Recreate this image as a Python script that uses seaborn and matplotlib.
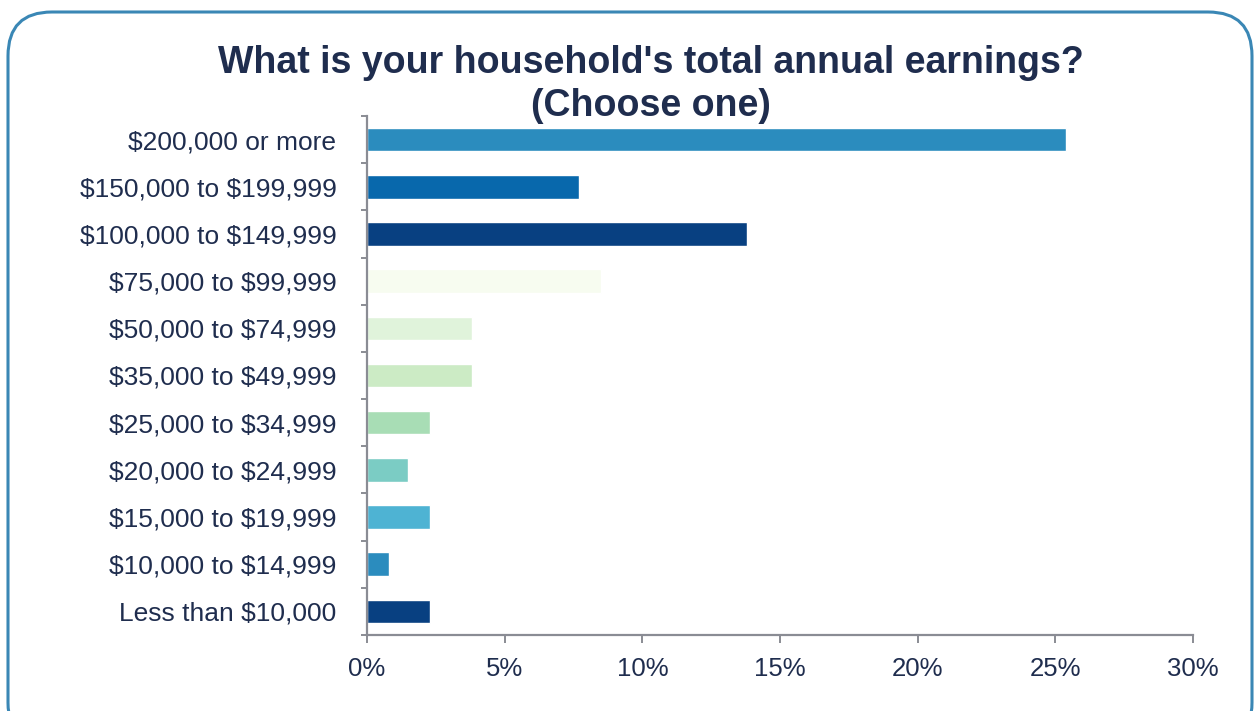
import matplotlib
matplotlib.use("Agg")
import matplotlib.pyplot as plt
from matplotlib.patches import FancyBboxPatch
from matplotlib.ticker import PercentFormatter
import seaborn as sns
import pandas as pd

categories = [
    "$200,000 or more",
    "$150,000 to $199,999",
    "$100,000 to $149,999",
    "$75,000 to $99,999",
    "$50,000 to $74,999",
    "$35,000 to $49,999",
    "$25,000 to $34,999",
    "$20,000 to $24,999",
    "$15,000 to $19,999",
    "$10,000 to $14,999",
    "Less than $10,000",
]
shares = [25.4, 7.7, 13.8, 8.5, 3.8, 3.8, 2.3, 1.5, 2.3, 0.8, 2.3]
bar_colors = [
    "#2b8cbe", "#0868ac", "#084081", "#f7fcf0", "#e0f3db", "#ccebc5",
    "#a8ddb5", "#7bccc4", "#4eb3d3", "#2b8cbe", "#084081",
]
x_ticks = [0, 5, 10, 15, 20, 25, 30]

text_color = "#1f2d4e"
axis_color = "#8a8c94"

sns.set_theme(style="white")
plt.rcParams["font.family"] = ["Liberation Sans", "DejaVu Sans"]
plt.rcParams["text.parse_math"] = False

df = pd.DataFrame({"bracket": categories, "share": shares})

fig = plt.figure(figsize=(12.56, 7.11), dpi=100)
fig.patch.set_facecolor("white")

# rounded frame around the whole chart
frame = FancyBboxPatch(
    (8 / 1256, -0.05), 1244 / 1256, 1 - 12 / 711 + 0.05,
    boxstyle="round,pad=0,rounding_size=0.035",
    transform=fig.transFigure, facecolor="none",
    edgecolor="#3a87b5", linewidth=2.2, mutation_aspect=1256 / 711,
)
fig.patches.append(frame)

ax = fig.add_axes([367 / 1256, 1 - 635 / 711, (1193 - 367) / 1256, (635 - 116) / 711])
sns.barplot(
    data=df, x="share", y="bracket", hue="bracket",
    palette=bar_colors, legend=False, width=0.5, ax=ax, saturation=1,
)

ax.set_xlim(0, 30)
ax.set_ylim(len(categories) - 0.5, -0.5)
ax.set_xticks(x_ticks)
ax.xaxis.set_major_formatter(PercentFormatter(decimals=0))
ax.set_xlabel("")
ax.set_ylabel("")

for side in ("top", "right"):
    ax.spines[side].set_visible(False)
for side in ("left", "bottom"):
    ax.spines[side].set_color(axis_color)
    ax.spines[side].set_linewidth(1.6)

ax.tick_params(axis="x", which="major", direction="out", length=5.5, width=1.4,
               color=axis_color, labelsize=18.5, labelcolor=text_color, pad=10,
               bottom=True)
ax.tick_params(axis="y", which="major", length=0, labelsize=19,
               labelcolor=text_color, pad=22)
ax.set_yticks([i + 0.5 for i in range(-1, len(categories))], minor=True)
ax.tick_params(axis="y", which="minor", direction="out", length=4.5, width=1.4,
               color=axis_color, left=True)

fig.text(651 / 1256, 1 - 63 / 711, "What is your household's total annual earnings?",
         ha="center", va="center", fontsize=27, fontweight="bold", color=text_color)
fig.text(651 / 1256, 1 - 106 / 711, "(Choose one)",
         ha="center", va="center", fontsize=27, fontweight="bold", color=text_color)

fig.savefig("out.png", dpi=100, facecolor="white")
